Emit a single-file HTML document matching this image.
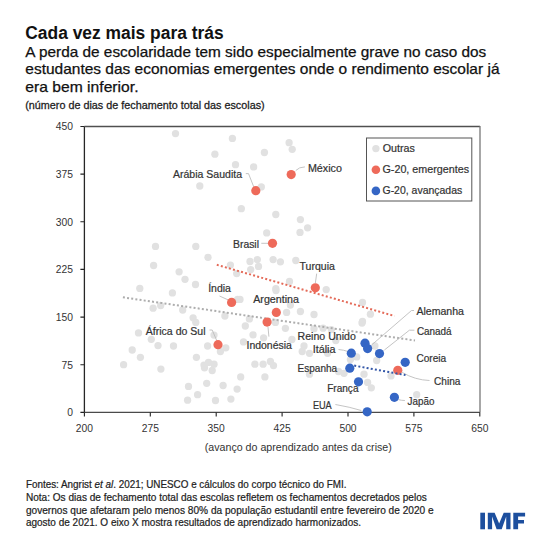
<!DOCTYPE html>
<html><head><meta charset="utf-8"><style>
html,body{margin:0;padding:0;background:#fff;width:550px;height:551px;overflow:hidden}
svg{display:block;font-family:"Liberation Sans",sans-serif}
</style></head><body>
<svg width="550" height="551" viewBox="0 0 550 551">
<rect width="550" height="551" fill="#fff"/>
<g stroke="#222" stroke-width="1.3" fill="none">
<path d="M84.4 126.5 V412.4" stroke="#262626"/>
<path d="M84.4 412.4 H480" stroke="#4a4a4a"/>
<path d="M84.4 126.5 H480" stroke="#505050"/>
</g>
<path d="M480 126 V412.4" stroke="#777" stroke-width="1.3" fill="none"/>
<path d="M84.4 412.4 v4 M150.3 412.4 v4 M216.2 412.4 v4 M282.1 412.4 v4 M348.0 412.4 v4 M413.9 412.4 v4 M479.8 412.4 v4 M80.4 412.4 h4 M80.4 364.8 h4 M80.4 317.1 h4 M80.4 269.4 h4 M80.4 221.8 h4 M80.4 174.1 h4 M80.4 126.5 h4" stroke="#222" stroke-width="1.1" fill="none"/>
<text x="73" y="416.2" text-anchor="end" font-size="10.3" fill="#333333">0</text>
<text x="73" y="368.6" text-anchor="end" font-size="10.3" fill="#333333">75</text>
<text x="73" y="320.9" text-anchor="end" font-size="10.3" fill="#333333">150</text>
<text x="73" y="273.2" text-anchor="end" font-size="10.3" fill="#333333">225</text>
<text x="73" y="225.6" text-anchor="end" font-size="10.3" fill="#333333">300</text>
<text x="73" y="177.9" text-anchor="end" font-size="10.3" fill="#333333">375</text>
<text x="73" y="130.3" text-anchor="end" font-size="10.3" fill="#333333">450</text>
<text x="84.4" y="431.8" text-anchor="middle" font-size="10.3" fill="#333333">200</text>
<text x="150.3" y="431.8" text-anchor="middle" font-size="10.3" fill="#333333">275</text>
<text x="216.2" y="431.8" text-anchor="middle" font-size="10.3" fill="#333333">350</text>
<text x="282.1" y="431.8" text-anchor="middle" font-size="10.3" fill="#333333">425</text>
<text x="348.0" y="431.8" text-anchor="middle" font-size="10.3" fill="#333333">500</text>
<text x="413.9" y="431.8" text-anchor="middle" font-size="10.3" fill="#333333">575</text>
<text x="479.8" y="431.8" text-anchor="middle" font-size="10.3" fill="#333333">650</text>
<text x="204.8" y="451.3" font-size="10.3" fill="#333333" textLength="187" lengthAdjust="spacingAndGlyphs">(avanço do aprendizado antes da crise)</text>
<circle cx="175.5" cy="133.6" r="3.65" fill="#e1e1e1"/>
<circle cx="232.4" cy="138.4" r="3.65" fill="#e1e1e1"/>
<circle cx="214.9" cy="154.2" r="3.65" fill="#e1e1e1"/>
<circle cx="264.4" cy="152.5" r="3.65" fill="#e1e1e1"/>
<circle cx="235.5" cy="164.7" r="3.65" fill="#e1e1e1"/>
<circle cx="253.6" cy="166.9" r="3.65" fill="#e1e1e1"/>
<circle cx="199.8" cy="186" r="3.65" fill="#e1e1e1"/>
<circle cx="261.3" cy="186.9" r="3.65" fill="#e1e1e1"/>
<circle cx="241.3" cy="208.7" r="3.65" fill="#e1e1e1"/>
<circle cx="275.8" cy="214.5" r="3.65" fill="#e1e1e1"/>
<circle cx="289.1" cy="142.7" r="3.65" fill="#e1e1e1"/>
<circle cx="292.2" cy="149.3" r="3.65" fill="#e1e1e1"/>
<circle cx="300.4" cy="219.6" r="3.65" fill="#e1e1e1"/>
<circle cx="307.6" cy="227.8" r="3.65" fill="#e1e1e1"/>
<circle cx="300" cy="232.4" r="3.65" fill="#e1e1e1"/>
<circle cx="266.7" cy="232.9" r="3.65" fill="#e1e1e1"/>
<circle cx="155.5" cy="246.4" r="3.65" fill="#e1e1e1"/>
<circle cx="153.6" cy="265.5" r="3.65" fill="#e1e1e1"/>
<circle cx="179.1" cy="271.8" r="3.65" fill="#e1e1e1"/>
<circle cx="185" cy="279.3" r="3.65" fill="#e1e1e1"/>
<circle cx="139.8" cy="288.4" r="3.65" fill="#e1e1e1"/>
<circle cx="172.4" cy="292.9" r="3.65" fill="#e1e1e1"/>
<circle cx="153.1" cy="308.2" r="3.65" fill="#e1e1e1"/>
<circle cx="160.7" cy="305.6" r="3.65" fill="#e1e1e1"/>
<circle cx="182.7" cy="310" r="3.65" fill="#e1e1e1"/>
<circle cx="195.8" cy="246.4" r="3.65" fill="#e1e1e1"/>
<circle cx="208" cy="257.3" r="3.65" fill="#e1e1e1"/>
<circle cx="250" cy="261.5" r="3.65" fill="#e1e1e1"/>
<circle cx="257.3" cy="259.6" r="3.65" fill="#e1e1e1"/>
<circle cx="273.1" cy="259.6" r="3.65" fill="#e1e1e1"/>
<circle cx="280.4" cy="261.8" r="3.65" fill="#e1e1e1"/>
<circle cx="230.4" cy="265.1" r="3.65" fill="#e1e1e1"/>
<circle cx="258.5" cy="266.4" r="3.65" fill="#e1e1e1"/>
<circle cx="250.7" cy="269.6" r="3.65" fill="#e1e1e1"/>
<circle cx="236.7" cy="273.6" r="3.65" fill="#e1e1e1"/>
<circle cx="195.5" cy="284.5" r="3.65" fill="#e1e1e1"/>
<circle cx="275.8" cy="288.7" r="3.65" fill="#e1e1e1"/>
<circle cx="237.6" cy="299.3" r="3.65" fill="#e1e1e1"/>
<circle cx="193.1" cy="317.8" r="3.65" fill="#e1e1e1"/>
<circle cx="224.9" cy="316" r="3.65" fill="#e1e1e1"/>
<circle cx="249.4" cy="318.9" r="3.65" fill="#e1e1e1"/>
<circle cx="245.3" cy="326" r="3.65" fill="#e1e1e1"/>
<circle cx="275.4" cy="322.4" r="3.65" fill="#e1e1e1"/>
<circle cx="195.8" cy="322.4" r="3.65" fill="#e1e1e1"/>
<circle cx="295.8" cy="260.5" r="3.65" fill="#e1e1e1"/>
<circle cx="289.5" cy="281.5" r="3.65" fill="#e1e1e1"/>
<circle cx="326.2" cy="289.6" r="3.65" fill="#e1e1e1"/>
<circle cx="362.5" cy="302.4" r="3.65" fill="#e1e1e1"/>
<circle cx="370.4" cy="314.2" r="3.65" fill="#e1e1e1"/>
<circle cx="290.4" cy="305.1" r="3.65" fill="#e1e1e1"/>
<circle cx="286.6" cy="312.4" r="3.65" fill="#e1e1e1"/>
<circle cx="300.4" cy="311.5" r="3.65" fill="#e1e1e1"/>
<circle cx="314" cy="314.5" r="3.65" fill="#e1e1e1"/>
<circle cx="362.5" cy="321.5" r="3.65" fill="#e1e1e1"/>
<circle cx="276" cy="290.6" r="3.65" fill="#e1e1e1"/>
<circle cx="240" cy="299.4" r="3.65" fill="#e1e1e1"/>
<circle cx="138.5" cy="332.9" r="3.65" fill="#e1e1e1"/>
<circle cx="151.3" cy="339.3" r="3.65" fill="#e1e1e1"/>
<circle cx="158" cy="345.6" r="3.65" fill="#e1e1e1"/>
<circle cx="173.5" cy="346" r="3.65" fill="#e1e1e1"/>
<circle cx="132.2" cy="350" r="3.65" fill="#e1e1e1"/>
<circle cx="140.4" cy="357.3" r="3.65" fill="#e1e1e1"/>
<circle cx="123.6" cy="364.7" r="3.65" fill="#e1e1e1"/>
<circle cx="160.9" cy="369.1" r="3.65" fill="#e1e1e1"/>
<circle cx="214" cy="335.1" r="3.65" fill="#e1e1e1"/>
<circle cx="207.6" cy="346" r="3.65" fill="#e1e1e1"/>
<circle cx="225.8" cy="347.8" r="3.65" fill="#e1e1e1"/>
<circle cx="220.4" cy="351.5" r="3.65" fill="#e1e1e1"/>
<circle cx="253" cy="334.8" r="3.65" fill="#e1e1e1"/>
<circle cx="263.6" cy="337.8" r="3.65" fill="#e1e1e1"/>
<circle cx="243.5" cy="341.9" r="3.65" fill="#e1e1e1"/>
<circle cx="196.4" cy="357.3" r="3.65" fill="#e1e1e1"/>
<circle cx="204" cy="365.1" r="3.65" fill="#e1e1e1"/>
<circle cx="208.5" cy="362.4" r="3.65" fill="#e1e1e1"/>
<circle cx="214" cy="364.2" r="3.65" fill="#e1e1e1"/>
<circle cx="204.5" cy="367.8" r="3.65" fill="#e1e1e1"/>
<circle cx="212.2" cy="370.5" r="3.65" fill="#e1e1e1"/>
<circle cx="254.9" cy="364.2" r="3.65" fill="#e1e1e1"/>
<circle cx="263.1" cy="364.2" r="3.65" fill="#e1e1e1"/>
<circle cx="270.4" cy="361.5" r="3.65" fill="#e1e1e1"/>
<circle cx="273.5" cy="365.6" r="3.65" fill="#e1e1e1"/>
<circle cx="240.7" cy="376.9" r="3.65" fill="#e1e1e1"/>
<circle cx="264.9" cy="376.9" r="3.65" fill="#e1e1e1"/>
<circle cx="188.5" cy="386.4" r="3.65" fill="#e1e1e1"/>
<circle cx="206.7" cy="383.3" r="3.65" fill="#e1e1e1"/>
<circle cx="223.1" cy="385.5" r="3.65" fill="#e1e1e1"/>
<circle cx="237.1" cy="389.1" r="3.65" fill="#e1e1e1"/>
<circle cx="197.6" cy="394.7" r="3.65" fill="#e1e1e1"/>
<circle cx="187.6" cy="400.2" r="3.65" fill="#e1e1e1"/>
<circle cx="215.5" cy="400.5" r="3.65" fill="#e1e1e1"/>
<circle cx="230.9" cy="399.1" r="3.65" fill="#e1e1e1"/>
<circle cx="285.4" cy="328.3" r="3.65" fill="#e1e1e1"/>
<circle cx="291.9" cy="339.5" r="3.65" fill="#e1e1e1"/>
<circle cx="314" cy="328.7" r="3.65" fill="#e1e1e1"/>
<circle cx="323.1" cy="328.2" r="3.65" fill="#e1e1e1"/>
<circle cx="331.3" cy="329.6" r="3.65" fill="#e1e1e1"/>
<circle cx="362" cy="323" r="3.65" fill="#e1e1e1"/>
<circle cx="304" cy="346" r="3.65" fill="#e1e1e1"/>
<circle cx="302.2" cy="351.5" r="3.65" fill="#e1e1e1"/>
<circle cx="309.5" cy="353.3" r="3.65" fill="#e1e1e1"/>
<circle cx="327.6" cy="353.3" r="3.65" fill="#e1e1e1"/>
<circle cx="335.8" cy="340.5" r="3.65" fill="#e1e1e1"/>
<circle cx="350.4" cy="359.6" r="3.65" fill="#e1e1e1"/>
<circle cx="356.7" cy="356.9" r="3.65" fill="#e1e1e1"/>
<circle cx="344" cy="373.3" r="3.65" fill="#e1e1e1"/>
<circle cx="338.5" cy="371.5" r="3.65" fill="#e1e1e1"/>
<circle cx="309.5" cy="374.2" r="3.65" fill="#e1e1e1"/>
<circle cx="364" cy="374.2" r="3.65" fill="#e1e1e1"/>
<circle cx="367.6" cy="382.4" r="3.65" fill="#e1e1e1"/>
<circle cx="371.3" cy="387.8" r="3.65" fill="#e1e1e1"/>
<circle cx="374.9" cy="346" r="3.65" fill="#e1e1e1"/>
<circle cx="376.7" cy="360.5" r="3.65" fill="#e1e1e1"/>
<circle cx="391" cy="375.9" r="3.65" fill="#e1e1e1"/>
<circle cx="416.7" cy="394.7" r="3.65" fill="#e1e1e1"/>
<g stroke-width="2" stroke-dasharray="2 2.2" fill="none">
<path d="M122.9 297.3 L415 340.5" stroke="#adadad"/>
<path d="M216.8 264.8 L394.5 316" stroke="#e46a58"/>
</g>
<g stroke="#bdbdbd" stroke-width="0.9" fill="none">
<path d="M245.8 173.6 H248.5 L254 187.5 M295.8 170.5 Q299 167 304.9 166.9 M261.3 243.3 H268 M219.5 296 L229.5 300.5 M316.7 273.6 L315.3 283.3 M209.5 330 H212.2 L216.7 340.5 M268 327.1 L268.9 336.6 M338.5 349.5 Q344 350 347.6 351.4 M414 310.5 H411.5 L372.2 344.5 M414.4 330.2 H409.4 L384.4 350 M402.2 372.4 Q415 380 429.5 380.5 M398.5 399.6 Q401 400.5 404.9 400.5 M335.4 404.5 Q350 407 361.3 410.5"/>
</g>
<circle cx="255.8" cy="190.7" r="4.6" fill="#ee6a5a"/>
<circle cx="291.2" cy="174.6" r="4.6" fill="#ee6a5a"/>
<circle cx="272.5" cy="243.3" r="4.6" fill="#ee6a5a"/>
<circle cx="315.3" cy="287.8" r="4.6" fill="#ee6a5a"/>
<circle cx="231.6" cy="302.4" r="4.6" fill="#ee6a5a"/>
<circle cx="276.3" cy="312.4" r="4.6" fill="#ee6a5a"/>
<circle cx="267.1" cy="322.1" r="4.6" fill="#ee6a5a"/>
<circle cx="218" cy="344.7" r="4.6" fill="#ee6a5a"/>
<circle cx="397.8" cy="370.3" r="4.6" fill="#ee6a5a"/>
<circle cx="365" cy="343.2" r="4.6" fill="#3566c5"/>
<circle cx="367.6" cy="348.6" r="4.6" fill="#3566c5"/>
<circle cx="351.3" cy="353.2" r="4.6" fill="#3566c5"/>
<circle cx="379.5" cy="353.6" r="4.6" fill="#3566c5"/>
<circle cx="349.8" cy="368.2" r="4.6" fill="#3566c5"/>
<circle cx="358.5" cy="381.8" r="4.6" fill="#3566c5"/>
<circle cx="367.2" cy="411.8" r="4.6" fill="#3566c5"/>
<circle cx="405.2" cy="362.3" r="4.6" fill="#3566c5"/>
<circle cx="394.4" cy="397.3" r="4.6" fill="#3566c5"/>
<path d="M354.2 365.6 L405.5 375.1" stroke="#3558a8" stroke-width="2" stroke-dasharray="2 2.2" fill="none"/>
<text x="173" y="177.8" font-size="10.2" fill="#333333" stroke="#333333" stroke-width="0.2" textLength="69" lengthAdjust="spacingAndGlyphs">Arábia Saudita</text>
<text x="307.9" y="171.8" font-size="10.2" fill="#333333" stroke="#333333" stroke-width="0.2" textLength="34" lengthAdjust="spacingAndGlyphs">México</text>
<text x="233" y="247.5" font-size="10.2" fill="#333333" stroke="#333333" stroke-width="0.2" textLength="26" lengthAdjust="spacingAndGlyphs">Brasil</text>
<text x="299.5" y="270" font-size="10.2" fill="#333333" stroke="#333333" stroke-width="0.2" textLength="35.4" lengthAdjust="spacingAndGlyphs">Turquia</text>
<text x="208.2" y="291.5" font-size="10.2" fill="#333333" stroke="#333333" stroke-width="0.2" textLength="22.7" lengthAdjust="spacingAndGlyphs">Índia</text>
<text x="253.2" y="303.2" font-size="10.2" fill="#333333" stroke="#333333" stroke-width="0.2" textLength="45.8" lengthAdjust="spacingAndGlyphs">Argentina</text>
<text x="416.4" y="314.5" font-size="10.2" fill="#333333" stroke="#333333" stroke-width="0.2" textLength="47.6" lengthAdjust="spacingAndGlyphs">Alemanha</text>
<text x="416.9" y="334.5" font-size="10.2" fill="#333333" stroke="#333333" stroke-width="0.2" textLength="34.7" lengthAdjust="spacingAndGlyphs">Canadá</text>
<text x="145.8" y="334.7" font-size="10.2" fill="#333333" stroke="#333333" stroke-width="0.2" textLength="59.7" lengthAdjust="spacingAndGlyphs">África do Sul</text>
<text x="297.6" y="339.5" font-size="10.2" fill="#333333" stroke="#333333" stroke-width="0.2" textLength="58.2" lengthAdjust="spacingAndGlyphs">Reino Unido</text>
<text x="246.5" y="348.6" font-size="10.2" fill="#333333" stroke="#333333" stroke-width="0.2" textLength="45.4" lengthAdjust="spacingAndGlyphs">Indonésia</text>
<text x="312.7" y="353.2" font-size="10.2" fill="#333333" stroke="#333333" stroke-width="0.2" textLength="22.8" lengthAdjust="spacingAndGlyphs">Itália</text>
<text x="416.4" y="362" font-size="10.2" fill="#333333" stroke="#333333" stroke-width="0.2" textLength="29.8" lengthAdjust="spacingAndGlyphs">Coreia</text>
<text x="297.6" y="372.3" font-size="10.2" fill="#333333" stroke="#333333" stroke-width="0.2" textLength="39.5" lengthAdjust="spacingAndGlyphs">Espanha</text>
<text x="434" y="384.5" font-size="10.2" fill="#333333" stroke="#333333" stroke-width="0.2" textLength="26.4" lengthAdjust="spacingAndGlyphs">China</text>
<text x="327.2" y="391.8" font-size="10.2" fill="#333333" stroke="#333333" stroke-width="0.2" textLength="31.3" lengthAdjust="spacingAndGlyphs">França</text>
<text x="407.6" y="404.5" font-size="10.2" fill="#333333" stroke="#333333" stroke-width="0.2" textLength="26.8" lengthAdjust="spacingAndGlyphs">Japão</text>
<text x="312.9" y="409" font-size="10.2" fill="#333333" stroke="#333333" stroke-width="0.2" textLength="18.8" lengthAdjust="spacingAndGlyphs">EUA</text>
<rect x="366.5" y="138" width="105.3" height="63" fill="#fff" stroke="#555" stroke-width="1"/>
<circle cx="375.9" cy="148.6" r="3.7" fill="#e1e1e1"/>
<circle cx="375.9" cy="169.7" r="4.3" fill="#ee6a5a"/>
<circle cx="375.9" cy="190.9" r="4.3" fill="#3566c5"/>
<text x="382.8" y="151.9" font-size="10.2" fill="#333333" stroke="#333333" stroke-width="0.2" textLength="32.1" lengthAdjust="spacingAndGlyphs">Outras</text>
<text x="382.5" y="173" font-size="10.2" fill="#333333" stroke="#333333" stroke-width="0.2" textLength="86.5" lengthAdjust="spacingAndGlyphs">G-20, emergentes</text>
<text x="382.5" y="194.3" font-size="10.2" fill="#333333" stroke="#333333" stroke-width="0.2" textLength="79.7" lengthAdjust="spacingAndGlyphs">G-20, avançadas</text>
<text x="25.3" y="38.7" font-size="18" font-weight="bold" fill="#111" textLength="198.3" lengthAdjust="spacingAndGlyphs">Cada vez mais para trás</text>
<text x="25.3" y="57.0" font-size="14.3" fill="#111" stroke="#111" stroke-width="0.25" textLength="461" lengthAdjust="spacingAndGlyphs">A perda de escolaridade tem sido especialmente grave no caso dos</text>
<text x="25.3" y="74.2" font-size="14.3" fill="#111" stroke="#111" stroke-width="0.25" textLength="474.2" lengthAdjust="spacingAndGlyphs">estudantes das economias emergentes onde o rendimento escolar já</text>
<text x="25.3" y="91.5" font-size="14.3" fill="#111" stroke="#111" stroke-width="0.25" textLength="113.2" lengthAdjust="spacingAndGlyphs">era bem inferior.</text>
<text x="25.2" y="108.6" font-size="11" fill="#222" stroke="#222" stroke-width="0.28" textLength="239.5" lengthAdjust="spacingAndGlyphs">(número de dias de fechamento total das escolas)</text>
<text x="25.9" y="488.4" font-size="10.8" fill="#222" stroke="#222" stroke-width="0.22" textLength="320.6" lengthAdjust="spacingAndGlyphs">Fontes: Angrist <tspan font-style="italic">et al</tspan>. 2021; UNESCO e cálculos do corpo técnico do FMI.</text>
<text x="25.9" y="500.9" font-size="10.8" fill="#222" stroke="#222" stroke-width="0.22" textLength="400.9" lengthAdjust="spacingAndGlyphs">Nota: Os dias de fechamento total das escolas refletem os fechamentos decretados pelos</text>
<text x="25.9" y="513.5" font-size="10.8" fill="#222" stroke="#222" stroke-width="0.22" textLength="407.7" lengthAdjust="spacingAndGlyphs">governos que afetaram pelo menos 80% da população estudantil entre fevereiro de 2020 e</text>
<text x="25.9" y="526.0" font-size="10.8" fill="#222" stroke="#222" stroke-width="0.22" textLength="335.1" lengthAdjust="spacingAndGlyphs">agosto de 2021. O eixo X mostra resultados de aprendizado harmonizados.</text>
<g fill="#1d4f9e"><rect x="480.3" y="512.7" width="4.7" height="16.6"/><path d="M487.8 529.3V512.7H494.6L499.15 523.5L503.7 512.7H510.5V529.3H506.2V516.5L501.7 529.3H496.6L492.1 516.5V529.3Z"/><path d="M513.3 529.3V512.7H525.1V516.6H518.1V519.9H524V523.6H518.1V529.3Z"/></g>
</svg></body></html>
